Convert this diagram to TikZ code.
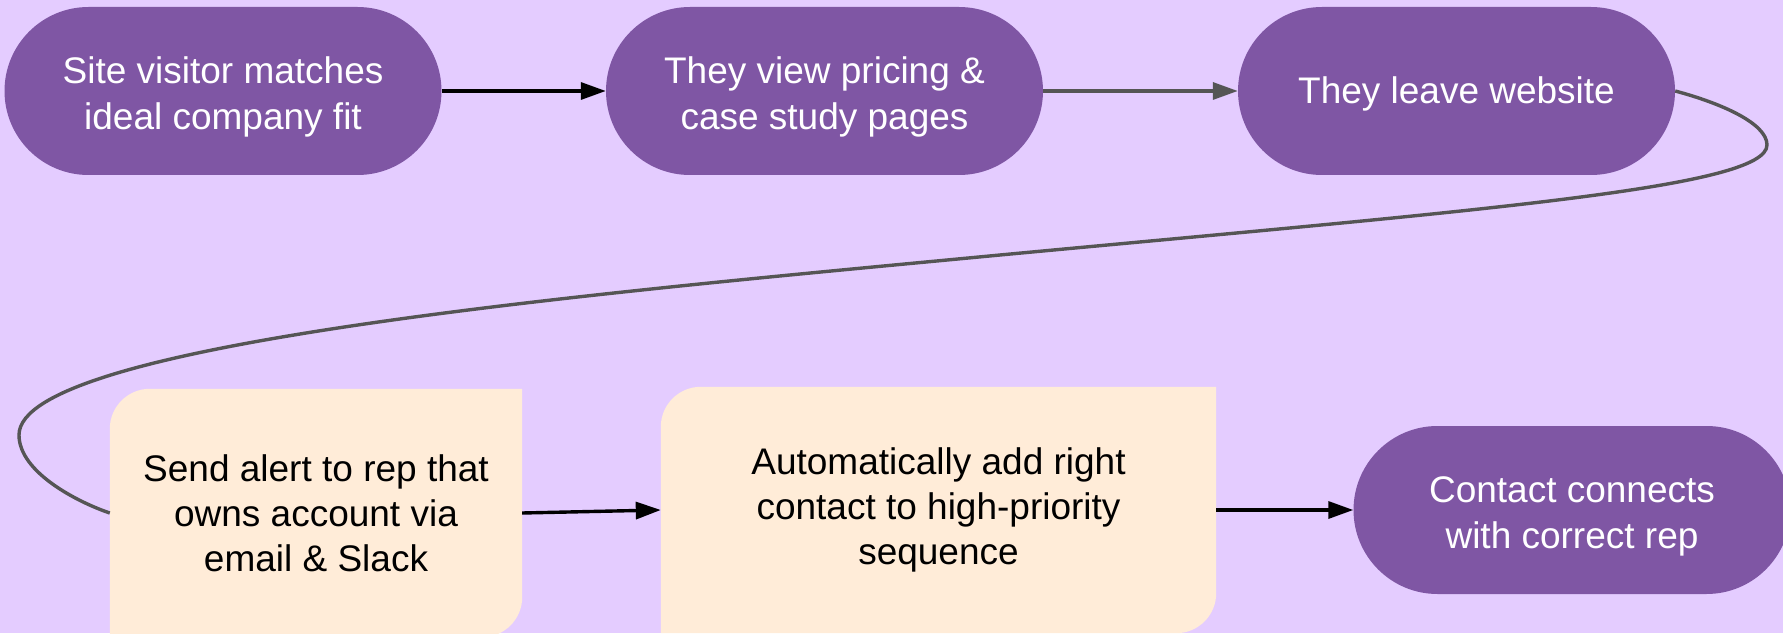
\documentclass[tikz,border=0pt]{standalone}
\usepackage{fontspec}
\setmainfont{Liberation Sans}
\usetikzlibrary{arrows.meta,backgrounds}

\definecolor{bgcol}{HTML}{E4CCFF}
\definecolor{pillcol}{HTML}{7F56A4}
\definecolor{notecol}{HTML}{FFECD8}
\definecolor{linegray}{HTML}{555555}

\begin{document}
\begin{tikzpicture}[x=1pt,y=1pt,
  pill/.style={fill=pillcol, rounded corners=84pt, minimum width=437pt,
    minimum height=168pt, inner sep=0pt},
  pilltext/.style={inner sep=0pt, text=white, align=center,
    font=\fontsize{37}{46}\selectfont},
  notebox/.style={inner sep=0pt, text=black, align=center,
    font=\fontsize{37}{45}\selectfont},
  flow/.style={line width=3.4pt, -{Triangle[length=25pt,width=17pt]}},
  loopline/.style={line width=3.4pt, draw=linegray}
]
\useasboundingbox (0,0) rectangle (1783,633);

% top row: pill shapes and their labels
\node[pill] (visit) at (223,542) {};
\node[pill] (pricing) at (824.5,542) {};
\node[pill] (leave) at (1456.5,542) {};
\node[pilltext] (visit-t) at ([yshift=-6pt]visit.center)
  {Site visitor matches\\ideal company fit};
\node[pilltext] (pricing-t) at ([yshift=-6pt]pricing.center)
  {They view pricing \&\\case study pages};
\node[pilltext] (leave-t) at ([yshift=-3pt]leave.center) {They leave website};

% bottom row
\node[notebox, minimum width=412pt, minimum height=248pt] (alert) at (316,120)
  {Send alert to rep that\\owns account via\\email \& Slack};
\node[notebox, minimum width=555pt, minimum height=246pt] (seq) at (938.5,123)
  {Automatically add right\\contact to high-priority\\sequence};
\node[pill] (connect) at (1572,123) {};
\node[pilltext] (connect-t) at ([yshift=-6pt]connect.center)
  {Contact connects\\with correct rep};

% canvas and note shapes (rounded top-left and bottom-right corners)
\begin{scope}[on background layer]
  \fill[bgcol] (0,0) rectangle (1783,633);
  \foreach \n in {alert,seq}{
    \fill[notecol] (\n.south west) -- ([yshift=-40pt]\n.north west)
      arc[start angle=180, end angle=90, radius=40pt] -- (\n.north east)
      -- ([yshift=40pt]\n.south east)
      arc[start angle=0, end angle=-90, radius=40pt] -- cycle;
  }
\end{scope}

% connectors
\draw[flow] (visit.east) -- (pricing.west);
\draw[flow, draw=linegray, fill=linegray] (pricing.east) -- (leave.west);
\draw[loopline] (leave.east) .. controls (1720,530) and (1767,510) .. (1767,488)
  .. controls (1767,445) and (1480,423) .. (1000,378)
  .. controls (600,340) and (19,290) .. (19,198)
  .. controls (19,160) and (80,130) .. (alert.west);
\draw[flow] (alert.east) -- (seq.west);
\draw[flow] (seq.east) -- (connect.west);
\end{tikzpicture}
\end{document}
